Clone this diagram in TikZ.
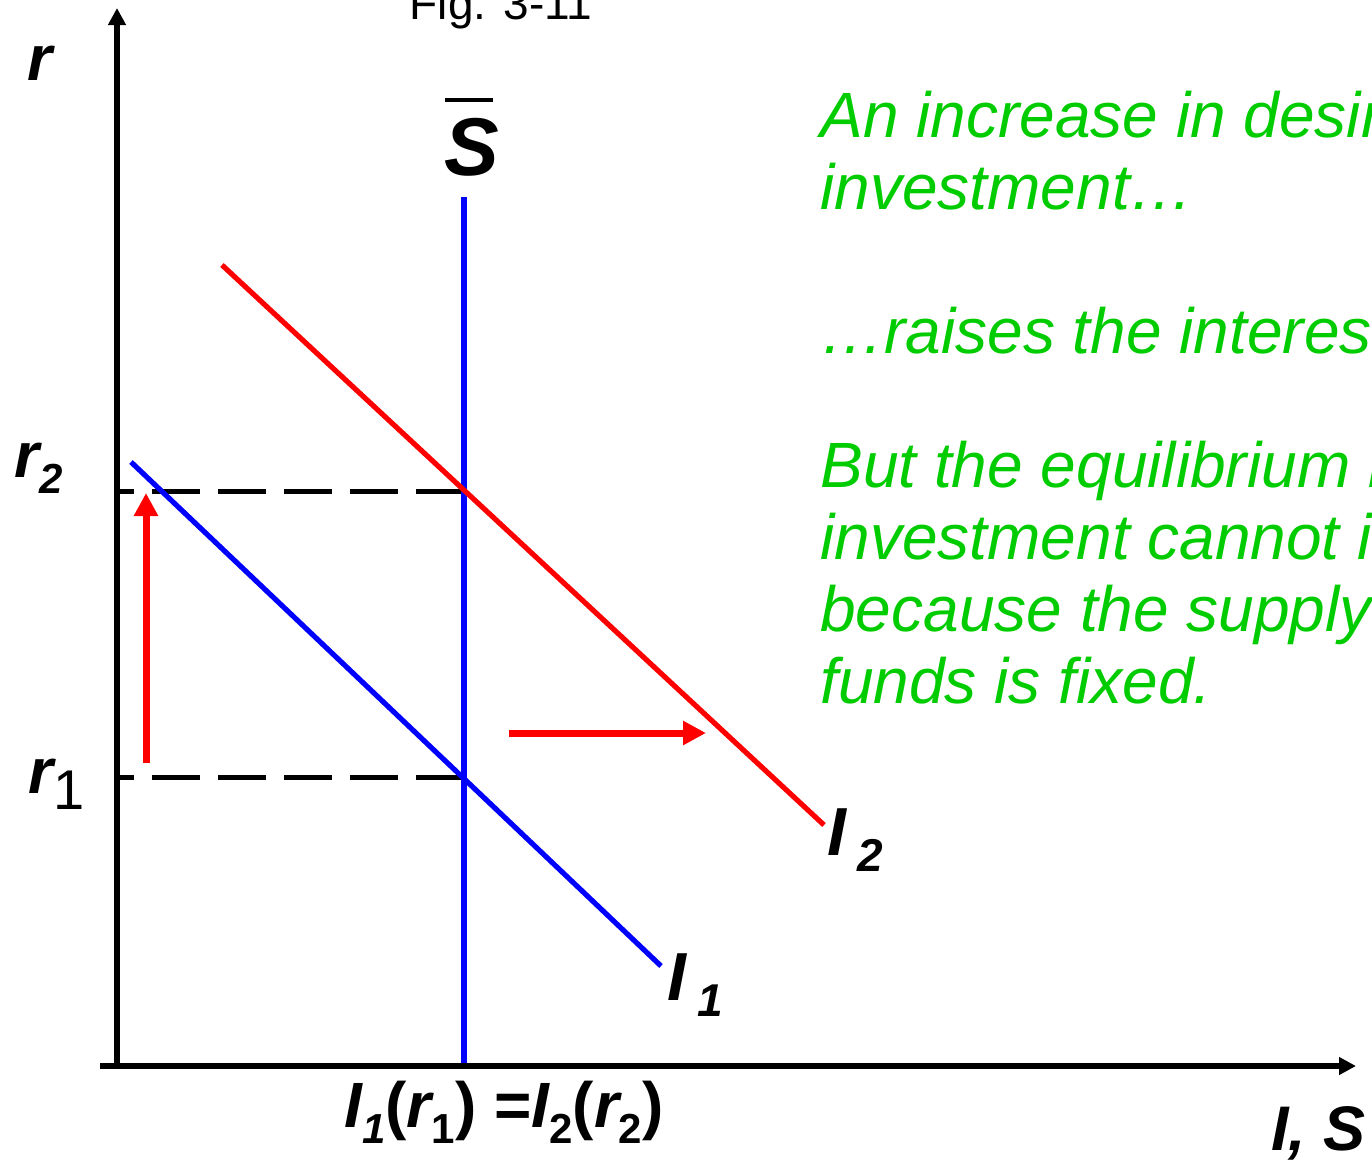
\documentclass[tikz,border=0pt]{standalone}
\usepackage{fontspec}
\setmainfont{Liberation Sans}
\usetikzlibrary{arrows.meta,calc}
\definecolor{txtgreen}{RGB}{0,204,0}
\definecolor{curveblue}{RGB}{0,0,255}
\definecolor{curvered}{RGB}{255,0,0}
\newcommand{\fsz}[1]{\fontsize{#1}{#1}\selectfont}
\newcommand{\lowsub}[2]{\raisebox{-8pt}{\fsz{#1}#2}}
\begin{document}
\begin{tikzpicture}[x=0.5pt,y=-0.5pt,
  axis/.style={line width=2.6pt, -{Triangle[length=8.5pt,width=8.5pt]}},
  guide/.style={line width=2.5pt, dash pattern=on 24pt off 9pt},
  curve/.style={line width=2.6pt},
  shiftarrow/.style={draw=curvered, line width=3.5pt, -{Triangle[length=11.5pt,width=11.5pt]}},
  lbl/.style={inner sep=0pt, anchor=base, font=\bfseries\itshape},
  note/.style={inner sep=0pt, anchor=base west, text=txtgreen, font=\fsz{32pt}\itshape},
]
\clip (0,0) rectangle (1372,1164);
\fill[white] (0,0) rectangle (1372,1164);

% coordinates
\coordinate (yb) at (117,1068);
\coordinate (yt) at (117,8);
\coordinate (xl) at (100,1066);
\coordinate (xr) at (1356,1066);
\coordinate (sTop) at (464,197);
\coordinate (sBot) at (464,1066);
\coordinate (iTwoA) at (222,265);
\coordinate (iTwoB) at (824,825);
\coordinate (iOneA) at (131,462);
\coordinate (iOneB) at (661,966);
\coordinate (eTwo) at (464,491);
\coordinate (aTwo) at (117,491);
\coordinate (eOne) at (464,777);
\coordinate (aOne) at (117,777);
\coordinate (upS) at (146,763);
\coordinate (upE) at (146,493);
\coordinate (rtS) at (509,733);
\coordinate (rtE) at (706,733);

% guides
\draw[guide] (eTwo) -- (aTwo);
\draw[guide] (eOne) -- (aOne);

% curves
\draw[curve, curveblue] (sTop) -- (sBot);
\draw[curve, curvered] (iTwoA) -- (iTwoB);
\draw[curve, curveblue] (iOneA) -- (iOneB);

% axes
\draw[axis] (yb) -- (yt);
\draw[axis] (xl) -- (xr);

% shift arrows
\draw[shiftarrow] (upS) -- (upE);
\draw[shiftarrow] (rtS) -- (rtE);

% labels
\node[inner sep=0pt, anchor=base, font=\fsz{23pt}] (fig) at (501,19) {Fig. 3-11};
\node[lbl, font=\fsz{32pt}\bfseries\itshape] (rlab) at (40,80) {r};
\node[lbl, anchor=base west, font=\fsz{32pt}\bfseries\itshape] (rtwo) at (14,477) {r\lowsub{21pt}{2}};
\node[lbl, anchor=base west, font=\fsz{32pt}\bfseries\itshape] (rone) at (28,793) {r\lowsub{28pt}{\mdseries\upshape 1}};
\node[lbl, font=\fsz{41pt}\bfseries\itshape] (sbar) at (472,175) {S};
\draw[line width=1.6pt] ($(sbar.base)+(-27,-75)$) -- ($(sbar.base)+(21,-75)$);
\node[lbl, anchor=base west, font=\fsz{34pt}\bfseries\itshape] (itwo) at (827,855) {I\,\lowsub{23pt}{2}};
\node[lbl, anchor=base west, font=\fsz{34pt}\bfseries\itshape] (ione) at (667,1000) {I\,\lowsub{23pt}{1}};
\node[lbl, anchor=base west, font=\fsz{32pt}\bfseries] (eqlab) at (344,1127)
  {\itshape I\lowsub{21pt}{1}\upshape(\itshape r\upshape\lowsub{21pt}{1}) =\itshape I\upshape\lowsub{21pt}{2}(\itshape r\upshape\lowsub{21pt}{2})};
\node[lbl, anchor=base east, font=\fsz{31.5pt}\bfseries\itshape] (islab) at (1366,1150) {I, S};

% explanatory text
\node[note] (t1) at (820,137) {An increase in desired};
\node[note] (t2) at (820,209) {investment…};
\node[note] (t3) at (820,353) {…raises the interest rate.};
\node[note] (t4) at (820,487) {But the equilibrium level of};
\node[note] (t5) at (820,559) {investment cannot increase};
\node[note] (t6) at (820,631) {because the supply of};
\node[note] (t7) at (820,703) {funds is fixed.};
\end{tikzpicture}
\end{document}
